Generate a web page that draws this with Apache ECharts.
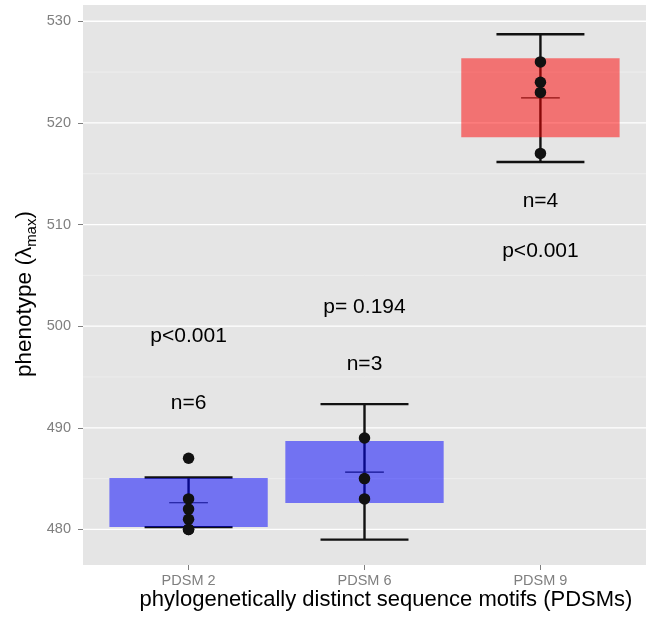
<!DOCTYPE html>
<html>
<head>
<meta charset="utf-8">
<script src="https://cdn.jsdelivr.net/npm/echarts@6/dist/echarts.min.js"></script>
<style>
html,body{margin:0;padding:0;background:#fff;}
#chart{width:648px;height:619px;}
</style>
</head>
<body>
<div id="chart"></div>
<script>
// ---- data ----
const categories = ['PDSM 2', 'PDSM 6', 'PDSM 9'];
const boxLow = [480.23, 482.59, 518.59];
const boxHigh = [485.05, 488.69, 526.36];
const whiskerLow = [480.23, 479.0, 516.15];
const whiskerHigh = [485.11, 492.33, 528.72];
const means = [482.62, 485.64, 522.46];
const points = [
  [487, 483, 482, 481, 480, 480],
  [489, 485, 483],
  [526, 524, 523, 517]
];
const nLabels = ['n=6', 'n=3', 'n=4'];
const nY = [492.4, 496.3, 512.3];
const pLabels = ['p<0.001', 'p= 0.194', 'p<0.001'];
const pY = [499.0, 501.9, 507.4];
const yTicks = [480, 490, 500, 510, 520, 530];
const yMinorTicks = [485, 495, 505, 515, 525];
const xTicks = [1, 2, 3];

// ---- styles ----
const FONT = '"Liberation Sans", Arial, Helvetica, sans-serif';
const barFill = ['rgba(0,0,255,0.5)', 'rgba(0,0,255,0.5)', 'rgba(255,0,0,0.5)'];
const X_MIN = 0.4, X_MAX = 3.6;

const chart = echarts.init(document.getElementById('chart'), null, {renderer: 'canvas'});

function gridLineRender(color, width) {
  return function (params, api) {
    const v = api.value(0);
    const p1 = api.coord([X_MIN, v]);
    const p2 = api.coord([X_MAX, v]);
    return {
      type: 'line',
      shape: {x1: p1[0], y1: p1[1], x2: p2[0], y2: p2[1]},
      style: {stroke: color, lineWidth: width},
      silent: true
    };
  };
}

const pointData = [];
points.forEach((arr, i) => arr.forEach(v => pointData.push([i + 1, v])));

const option = {
  animation: false,
  backgroundColor: '#ffffff',
  grid: {
    left: 83, right: 2, top: 5, bottom: 54,
    show: true, backgroundColor: '#E5E5E5', borderWidth: 0
  },
  xAxis: {
    type: 'value', min: X_MIN, max: X_MAX,
    axisLine: {show: false},
    splitLine: {show: false},
    axisTick: {show: true, customValues: xTicks, length: 5, lineStyle: {color: '#7F7F7F', width: 1}},
    axisLabel: {
      customValues: xTicks, margin: 8,
      formatter: v => categories[Math.round(v) - 1],
      color: '#7F7F7F', fontSize: 14.5, fontFamily: FONT
    }
  },
  yAxis: {
    type: 'value', min: 476.5, max: 531.6,
    axisLine: {show: false},
    splitLine: {show: false},
    axisTick: {show: true, customValues: yTicks, length: 5, lineStyle: {color: '#7F7F7F', width: 1}},
    axisLabel: {
      customValues: yTicks, margin: 12,
      color: '#7F7F7F', fontSize: 14.5, fontFamily: FONT
    }
  },
  graphic: [
    {
      type: 'text', x: 386, y: 600,
      style: {
        text: 'phylogenetically distinct sequence motifs (PDSMs)',
        fill: '#000', font: '22px ' + FONT,
        textAlign: 'center', textVerticalAlign: 'middle'
      }
    },
    {
      type: 'text', x: 25, y: 294, rotation: Math.PI / 2,
      style: {
        text: '{a|phenotype (λ}{s|max}{a|)}',
        rich: {
          a: {fontSize: 22.5, fontFamily: FONT, fill: '#000', lineHeight: 28},
          s: {fontSize: 15, fontFamily: FONT, fill: '#000', lineHeight: 15, verticalAlign: 'bottom'}
        },
        align: 'center', verticalAlign: 'middle',
        textAlign: 'center', textVerticalAlign: 'middle'
      }
    }
  ],
  series: [
    {
      type: 'custom', name: 'minorGrid',
      data: yMinorTicks.map(v => [v]),
      encode: {y: 0},
      renderItem: gridLineRender('#F2F2F2', 0.7),
      silent: true, z: 1
    },
    {
      type: 'custom', name: 'majorGrid',
      data: yTicks.map(v => [v]),
      encode: {y: 0},
      renderItem: gridLineRender('#FFFFFF', 1.3),
      silent: true, z: 1
    },
    {
      type: 'custom', name: 'errorbars',
      data: categories.map((c, i) => [i + 1, whiskerLow[i], whiskerHigh[i], means[i]]),
      encode: {x: 0, y: [1, 2]},
      z: 2,
      renderItem: function (params, api) {
        const x = api.value(0);
        const unit = api.size([1, 0])[0];
        const lo = api.coord([x, api.value(1)]);
        const hi = api.coord([x, api.value(2)]);
        const mn = api.coord([x, api.value(3)]);
        const hw = unit * 0.25;
        const mw = unit * 0.11;
        const st = {stroke: '#111', lineWidth: 2.4};
        return {
          type: 'group',
          children: [
            {type: 'line', shape: {x1: lo[0], y1: lo[1], x2: hi[0], y2: hi[1]}, style: st},
            {type: 'line', shape: {x1: lo[0] - hw, y1: lo[1], x2: lo[0] + hw, y2: lo[1]}, style: st},
            {type: 'line', shape: {x1: hi[0] - hw, y1: hi[1], x2: hi[0] + hw, y2: hi[1]}, style: st},
            {type: 'line', shape: {x1: mn[0] - mw, y1: mn[1], x2: mn[0] + mw, y2: mn[1]}, style: {stroke: '#222', lineWidth: 1.1}}
          ]
        };
      }
    },
    {
      type: 'custom', name: 'boxes',
      data: categories.map((c, i) => [i + 1, boxLow[i], boxHigh[i]]),
      encode: {x: 0, y: [1, 2]},
      z: 3,
      renderItem: function (params, api) {
        const x = api.value(0);
        const unit = api.size([1, 0])[0];
        const lo = api.coord([x, api.value(1)]);
        const hi = api.coord([x, api.value(2)]);
        const w = unit * 0.9;
        return {
          type: 'rect',
          shape: {x: lo[0] - w / 2, y: hi[1], width: w, height: lo[1] - hi[1]},
          style: {fill: barFill[params.dataIndex]}
        };
      }
    },
    {
      type: 'scatter', name: 'points',
      data: pointData,
      symbol: 'circle', symbolSize: 11.5,
      itemStyle: {color: '#111', opacity: 1},
      z: 4
    },
    {
      type: 'custom', name: 'nText',
      data: categories.map((c, i) => [i + 1, nY[i]]),
      encode: {x: 0, y: 1},
      z: 5,
      renderItem: function (params, api) {
        const p = api.coord([api.value(0), api.value(1)]);
        return {
          type: 'text', x: p[0], y: p[1],
          style: {text: nLabels[params.dataIndex], fill: '#000', font: '21px ' + FONT, textAlign: 'center', textVerticalAlign: 'middle'}
        };
      }
    },
    {
      type: 'custom', name: 'pText',
      data: categories.map((c, i) => [i + 1, pY[i]]),
      encode: {x: 0, y: 1},
      z: 5,
      renderItem: function (params, api) {
        const p = api.coord([api.value(0), api.value(1)]);
        return {
          type: 'text', x: p[0], y: p[1],
          style: {text: pLabels[params.dataIndex], fill: '#000', font: '21px ' + FONT, textAlign: 'center', textVerticalAlign: 'middle'}
        };
      }
    }
  ]
};
chart.setOption(option);
</script>
</body>
</html>
